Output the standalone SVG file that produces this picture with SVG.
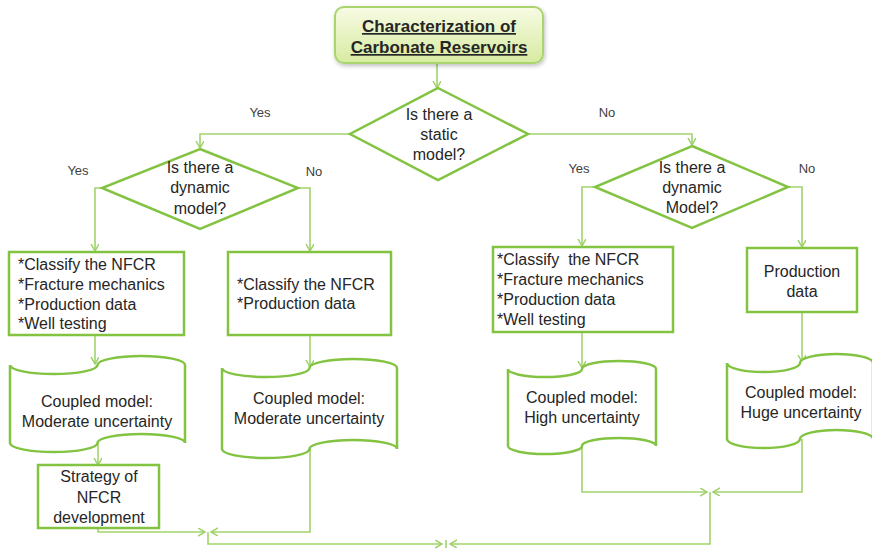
<svg xmlns="http://www.w3.org/2000/svg" width="872" height="550" viewBox="0 0 872 550">
  <defs>
    <linearGradient id="titleFill" x1="0" y1="0" x2="0" y2="1">
      <stop offset="0" stop-color="#f7fbe4"/>
      <stop offset="1" stop-color="#d7eba0"/>
    </linearGradient>
    <filter id="softShadow" x="-10%" y="-20%" width="120%" height="150%">
      <feDropShadow dx="1" dy="2" stdDeviation="2" flood-color="#000" flood-opacity="0.25"/>
    </filter>
    <marker id="open" markerUnits="userSpaceOnUse" markerWidth="10" markerHeight="10" refX="7" refY="4" orient="auto">
      <path d="M0,0 L7,4 L0,8" fill="none" stroke="#9fd06a" stroke-width="1.5"/>
    </marker>
    <style>
      .shape { fill: #ffffff; stroke: #82c341; stroke-width: 2.5; }
      .title { fill: url(#titleFill); stroke: #a9d46e; stroke-width: 2; }
      .conn { fill: none; stroke: #a2d36c; stroke-width: 1.6; }
      .arrow { marker-end: url(#open); }
      text { font-family: "Liberation Sans", Arial, sans-serif; fill: #262626; }
      .t { font-size: 16px; }
      .c { text-anchor: middle; }
      .lbl { font-size: 13px; fill: #404040; }
      .head { font-size: 17px; font-weight: bold; text-decoration: underline; }
    </style>
  </defs>

  <!-- connectors -->
  <g id="connectors">
    <path class="conn arrow" d="M437,63 V88"/>
    <path class="conn arrow" d="M350,134 H200 V148"/>
    <path class="conn arrow" d="M528,134 H692 V145"/>
    <path class="conn arrow" d="M102,188 H95 V251"/>
    <path class="conn arrow" d="M298,188 H310 V251"/>
    <path class="conn arrow" d="M595,187 H582 V246"/>
    <path class="conn arrow" d="M788,187 H802 V247"/>
    <path class="conn arrow" d="M95,335 V364"/>
    <path class="conn arrow" d="M310,335 V367"/>
    <path class="conn arrow" d="M582,332 V368"/>
    <path class="conn arrow" d="M802,312 V362"/>
    <path class="conn arrow" d="M98,443 V465"/>
    <path class="conn arrow" d="M98,528 V532 H205"/>
    <path class="conn arrow" d="M310,449 V532 H211"/>
    <path class="conn arrow" d="M208,532 V544 H442"/>
    <path class="conn arrow" d="M582,446 V492 H707"/>
    <path class="conn arrow" d="M802,439 V492 H713"/>
    <path class="conn arrow" d="M710,492 V544 H450"/>
    <path class="conn" d="M446,540 V548"/>
  </g>

  <!-- title -->
  <g id="title">
    <rect class="title" x="335" y="7" width="208" height="56" rx="9" filter="url(#softShadow)"/>
    <text class="head c" x="439" y="32">Characterization of</text>
    <text class="head c" x="439" y="53">Carbonate Reservoirs</text>
  </g>

  <!-- decisions -->
  <g id="static-model">
    <polygon class="shape" points="438,88 528,134 438,180 350,134"/>
    <text class="t c" x="439" y="120">Is there a</text>
    <text class="t c" x="439" y="140">static</text>
    <text class="t c" x="439" y="160">model?</text>
  </g>
  <g id="dynamic-left">
    <polygon class="shape" points="200,149 298,188 200,229 102,188"/>
    <text class="t c" x="200" y="173">Is there a</text>
    <text class="t c" x="200" y="193">dynamic</text>
    <text class="t c" x="200" y="214">model?</text>
  </g>
  <g id="dynamic-right">
    <polygon class="shape" points="692,146 788,187 692,228 595,187"/>
    <text class="t c" x="692" y="173">Is there a</text>
    <text class="t c" x="692" y="193">dynamic</text>
    <text class="t c" x="692" y="213">Model?</text>
  </g>

  <!-- branch labels -->
  <g id="labels">
    <text class="lbl c" x="260" y="117">Yes</text>
    <text class="lbl c" x="607" y="117">No</text>
    <text class="lbl c" x="78" y="175">Yes</text>
    <text class="lbl c" x="314" y="176">No</text>
    <text class="lbl c" x="579" y="173">Yes</text>
    <text class="lbl c" x="807" y="173">No</text>
  </g>

  <!-- process boxes -->
  <g id="tasks-full-left">
    <rect class="shape" x="9" y="252" width="175" height="83"/>
    <text class="t" x="18" y="270">*Classify the NFCR</text>
    <text class="t" x="18" y="290">*Fracture mechanics</text>
    <text class="t" x="18" y="310">*Production data</text>
    <text class="t" x="18" y="329">*Well testing</text>
  </g>
  <g id="tasks-partial">
    <rect class="shape" x="228" y="252" width="163" height="83"/>
    <text class="t" x="237" y="290">*Classify the NFCR</text>
    <text class="t" x="237" y="309">*Production data</text>
  </g>
  <g id="tasks-full-right">
    <rect class="shape" x="493" y="247" width="180" height="85"/>
    <text class="t" x="497" y="265" xml:space="preserve">*Classify  the NFCR</text>
    <text class="t" x="497" y="285">*Fracture mechanics</text>
    <text class="t" x="497" y="305">*Production data</text>
    <text class="t" x="497" y="325">*Well testing</text>
  </g>
  <g id="production-only">
    <rect class="shape" x="747" y="248" width="110" height="64"/>
    <text class="t c" x="802" y="277">Production</text>
    <text class="t c" x="802" y="297">data</text>
  </g>

  <!-- punched-tape outcomes -->
  <g id="coupled-moderate-1">
    <path class="shape" d="M10,365 A43.75,9 0 0 0 97.5,365 A43.75,9 0 0 1 185,365 V443 A43.75,9 0 0 0 97.5,443 A43.75,9 0 0 1 10,443 Z"/>
    <text class="t c" x="97" y="407">Coupled model:</text>
    <text class="t c" x="97" y="427">Moderate uncertainty</text>
  </g>
  <g id="coupled-moderate-2">
    <path class="shape" d="M222,368 A43.75,9 0 0 0 309.5,368 A43.75,9 0 0 1 397,368 V449 A43.75,9 0 0 0 309.5,449 A43.75,9 0 0 1 222,449 Z"/>
    <text class="t c" x="309" y="404">Coupled model:</text>
    <text class="t c" x="309" y="424">Moderate uncertainty</text>
  </g>
  <g id="coupled-high">
    <path class="shape" d="M508,369 A37,8 0 0 0 582,369 A37,8 0 0 1 656,369 V446 A37,8 0 0 0 582,446 A37,8 0 0 1 508,446 Z"/>
    <text class="t c" x="582" y="403">Coupled model:</text>
    <text class="t c" x="582" y="423">High uncertainty</text>
  </g>
  <g id="coupled-huge">
    <path class="shape" d="M727,363 A36.5,9 0 0 0 800,363 A36.5,9 0 0 1 873,363 V439 A36.5,9 0 0 0 800,439 A36.5,9 0 0 1 727,439 Z"/>
    <text class="t c" x="801" y="398">Coupled model:</text>
    <text class="t c" x="801" y="418">Huge uncertainty</text>
  </g>

  <g id="strategy">
    <rect class="shape" x="38" y="465" width="121" height="63"/>
    <text class="t c" x="99" y="482">Strategy of</text>
    <text class="t c" x="99" y="503">NFCR</text>
    <text class="t c" x="99" y="523">development</text>
  </g>
</svg>
